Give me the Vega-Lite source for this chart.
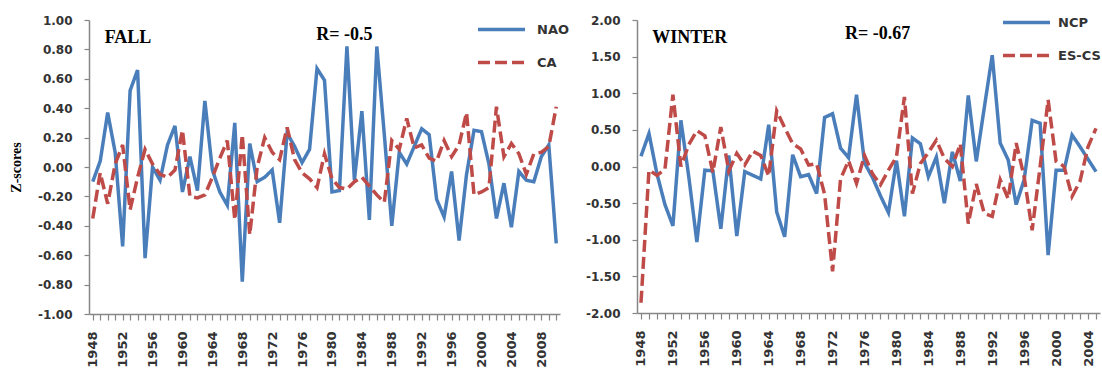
{
  "$schema": "https://vega.github.io/schema/vega-lite/v6.json",
  "padding": {"left": 9, "top": -3, "right": 0, "bottom": 0},
  "spacing": 77,
  "bounds": "flush",
  "background": "white",
  "resolve": {"scale": {"color": "independent", "strokeDash": "independent"}, "legend": {"color": "independent", "strokeDash": "independent"}},
  "config": {
    "view": {"stroke": null},
    "font": "DejaVu Sans",
    "axis": {"grid": false, "domainColor": "#868686", "tickColor": "#868686", "domainWidth": 1.5, "tickWidth": 1.2, "labelFont": "DejaVu Sans", "labelFontWeight": "bold", "labelColor": "#333333", "labelOverlap": false, "labelSeparation": -40}
  },
  "datasets": {
    "fall": [
      {"year":1948,"series":"NAO","value":-0.10},{"year":1949,"series":"NAO","value":0.04},{"year":1950,"series":"NAO","value":0.37},{"year":1951,"series":"NAO","value":0.10},{"year":1952,"series":"NAO","value":-0.54},{"year":1953,"series":"NAO","value":0.52},{"year":1954,"series":"NAO","value":0.66},{"year":1955,"series":"NAO","value":-0.62},{"year":1956,"series":"NAO","value":0.00},{"year":1957,"series":"NAO","value":-0.09},
      {"year":1958,"series":"NAO","value":0.15},{"year":1959,"series":"NAO","value":0.28},{"year":1960,"series":"NAO","value":-0.17},{"year":1961,"series":"NAO","value":0.07},{"year":1962,"series":"NAO","value":-0.16},{"year":1963,"series":"NAO","value":0.45},{"year":1964,"series":"NAO","value":-0.02},{"year":1965,"series":"NAO","value":-0.17},{"year":1966,"series":"NAO","value":-0.26},{"year":1967,"series":"NAO","value":0.30},
      {"year":1968,"series":"NAO","value":-0.78},{"year":1969,"series":"NAO","value":0.16},{"year":1970,"series":"NAO","value":-0.10},{"year":1971,"series":"NAO","value":-0.07},{"year":1972,"series":"NAO","value":-0.02},{"year":1973,"series":"NAO","value":-0.38},{"year":1974,"series":"NAO","value":0.23},{"year":1975,"series":"NAO","value":0.14},{"year":1976,"series":"NAO","value":0.03},{"year":1977,"series":"NAO","value":0.12},
      {"year":1978,"series":"NAO","value":0.67},{"year":1979,"series":"NAO","value":0.59},{"year":1980,"series":"NAO","value":-0.17},{"year":1981,"series":"NAO","value":-0.16},{"year":1982,"series":"NAO","value":0.82},{"year":1983,"series":"NAO","value":-0.09},{"year":1984,"series":"NAO","value":0.38},{"year":1985,"series":"NAO","value":-0.36},{"year":1986,"series":"NAO","value":0.82},{"year":1987,"series":"NAO","value":0.22},
      {"year":1988,"series":"NAO","value":-0.40},{"year":1989,"series":"NAO","value":0.10},{"year":1990,"series":"NAO","value":0.02},{"year":1991,"series":"NAO","value":0.14},{"year":1992,"series":"NAO","value":0.26},{"year":1993,"series":"NAO","value":0.22},{"year":1994,"series":"NAO","value":-0.22},{"year":1995,"series":"NAO","value":-0.34},{"year":1996,"series":"NAO","value":-0.03},{"year":1997,"series":"NAO","value":-0.50},
      {"year":1998,"series":"NAO","value":-0.05},{"year":1999,"series":"NAO","value":0.25},{"year":2000,"series":"NAO","value":0.24},{"year":2001,"series":"NAO","value":0.02},{"year":2002,"series":"NAO","value":-0.35},{"year":2003,"series":"NAO","value":-0.11},{"year":2004,"series":"NAO","value":-0.41},{"year":2005,"series":"NAO","value":-0.03},{"year":2006,"series":"NAO","value":-0.09},{"year":2007,"series":"NAO","value":-0.10},
      {"year":2008,"series":"NAO","value":0.07},{"year":2009,"series":"NAO","value":0.15},{"year":2010,"series":"NAO","value":-0.52},
      {"year":1948,"series":"CA","value":-0.35},{"year":1949,"series":"CA","value":-0.04},{"year":1950,"series":"CA","value":-0.25},{"year":1951,"series":"CA","value":0.02},{"year":1952,"series":"CA","value":0.15},{"year":1953,"series":"CA","value":-0.29},{"year":1954,"series":"CA","value":-0.07},{"year":1955,"series":"CA","value":0.12},{"year":1956,"series":"CA","value":0.02},{"year":1957,"series":"CA","value":-0.05},
      {"year":1958,"series":"CA","value":-0.07},{"year":1959,"series":"CA","value":-0.02},{"year":1960,"series":"CA","value":0.25},{"year":1961,"series":"CA","value":-0.20},{"year":1962,"series":"CA","value":-0.21},{"year":1963,"series":"CA","value":-0.19},{"year":1964,"series":"CA","value":-0.07},{"year":1965,"series":"CA","value":0.06},{"year":1966,"series":"CA","value":0.18},{"year":1967,"series":"CA","value":-0.36},
      {"year":1968,"series":"CA","value":0.22},{"year":1969,"series":"CA","value":-0.46},{"year":1970,"series":"CA","value":0.00},{"year":1971,"series":"CA","value":0.20},{"year":1972,"series":"CA","value":0.10},{"year":1973,"series":"CA","value":0.05},{"year":1974,"series":"CA","value":0.27},{"year":1975,"series":"CA","value":0.05},{"year":1976,"series":"CA","value":-0.04},{"year":1977,"series":"CA","value":-0.08},
      {"year":1978,"series":"CA","value":-0.14},{"year":1979,"series":"CA","value":0.09},{"year":1980,"series":"CA","value":-0.08},{"year":1981,"series":"CA","value":-0.14},{"year":1982,"series":"CA","value":-0.15},{"year":1983,"series":"CA","value":-0.10},{"year":1984,"series":"CA","value":-0.07},{"year":1985,"series":"CA","value":-0.13},{"year":1986,"series":"CA","value":-0.19},{"year":1987,"series":"CA","value":-0.24},
      {"year":1988,"series":"CA","value":0.18},{"year":1989,"series":"CA","value":0.12},{"year":1990,"series":"CA","value":0.33},{"year":1991,"series":"CA","value":0.13},{"year":1992,"series":"CA","value":0.15},{"year":1993,"series":"CA","value":0.06},{"year":1994,"series":"CA","value":0.04},{"year":1995,"series":"CA","value":0.18},{"year":1996,"series":"CA","value":0.07},{"year":1997,"series":"CA","value":0.15},
      {"year":1998,"series":"CA","value":0.37},{"year":1999,"series":"CA","value":-0.19},{"year":2000,"series":"CA","value":-0.17},{"year":2001,"series":"CA","value":-0.14},{"year":2002,"series":"CA","value":0.41},{"year":2003,"series":"CA","value":0.07},{"year":2004,"series":"CA","value":0.16},{"year":2005,"series":"CA","value":0.09},{"year":2006,"series":"CA","value":-0.05},{"year":2007,"series":"CA","value":0.09},
      {"year":2008,"series":"CA","value":0.10},{"year":2009,"series":"CA","value":0.14},{"year":2010,"series":"CA","value":0.41}
    ],
    "winter": [
      {"year":1948,"series":"NCP","value":0.14},{"year":1949,"series":"NCP","value":0.45},{"year":1950,"series":"NCP","value":-0.10},{"year":1951,"series":"NCP","value":-0.52},{"year":1952,"series":"NCP","value":-0.81},{"year":1953,"series":"NCP","value":0.63},{"year":1954,"series":"NCP","value":-0.15},{"year":1955,"series":"NCP","value":-1.03},{"year":1956,"series":"NCP","value":-0.05},{"year":1957,"series":"NCP","value":-0.06},
      {"year":1958,"series":"NCP","value":-0.85},{"year":1959,"series":"NCP","value":0.15},{"year":1960,"series":"NCP","value":-0.95},{"year":1961,"series":"NCP","value":-0.07},{"year":1962,"series":"NCP","value":-0.12},{"year":1963,"series":"NCP","value":-0.17},{"year":1964,"series":"NCP","value":0.57},{"year":1965,"series":"NCP","value":-0.62},{"year":1966,"series":"NCP","value":-0.96},{"year":1967,"series":"NCP","value":0.16},
      {"year":1968,"series":"NCP","value":-0.14},{"year":1969,"series":"NCP","value":-0.11},{"year":1970,"series":"NCP","value":-0.37},{"year":1971,"series":"NCP","value":0.67},{"year":1972,"series":"NCP","value":0.72},{"year":1973,"series":"NCP","value":0.25},{"year":1974,"series":"NCP","value":0.12},{"year":1975,"series":"NCP","value":0.98},{"year":1976,"series":"NCP","value":0.05},{"year":1977,"series":"NCP","value":-0.15},
      {"year":1978,"series":"NCP","value":-0.40},{"year":1979,"series":"NCP","value":-0.63},{"year":1980,"series":"NCP","value":0.08},{"year":1981,"series":"NCP","value":-0.68},{"year":1982,"series":"NCP","value":0.39},{"year":1983,"series":"NCP","value":0.31},{"year":1984,"series":"NCP","value":-0.14},{"year":1985,"series":"NCP","value":0.13},{"year":1986,"series":"NCP","value":-0.50},{"year":1987,"series":"NCP","value":0.20},
      {"year":1988,"series":"NCP","value":-0.20},{"year":1989,"series":"NCP","value":0.97},{"year":1990,"series":"NCP","value":0.07},{"year":1991,"series":"NCP","value":0.80},{"year":1992,"series":"NCP","value":1.52},{"year":1993,"series":"NCP","value":0.32},{"year":1994,"series":"NCP","value":0.09},{"year":1995,"series":"NCP","value":-0.52},{"year":1996,"series":"NCP","value":-0.18},{"year":1997,"series":"NCP","value":0.63},
      {"year":1998,"series":"NCP","value":0.59},{"year":1999,"series":"NCP","value":-1.21},{"year":2000,"series":"NCP","value":-0.05},{"year":2001,"series":"NCP","value":-0.05},{"year":2002,"series":"NCP","value":0.43},{"year":2003,"series":"NCP","value":0.27},{"year":2004,"series":"NCP","value":0.10},{"year":2005,"series":"NCP","value":-0.07},
      {"year":1948,"series":"ES-CS","value":-1.86},{"year":1949,"series":"ES-CS","value":-0.05},{"year":1950,"series":"ES-CS","value":-0.12},{"year":1951,"series":"ES-CS","value":-0.04},{"year":1952,"series":"ES-CS","value":0.98},{"year":1953,"series":"ES-CS","value":0.00},{"year":1954,"series":"ES-CS","value":0.30},{"year":1955,"series":"ES-CS","value":0.49},{"year":1956,"series":"ES-CS","value":0.42},{"year":1957,"series":"ES-CS","value":-0.08},
      {"year":1958,"series":"ES-CS","value":0.54},{"year":1959,"series":"ES-CS","value":-0.06},{"year":1960,"series":"ES-CS","value":0.18},{"year":1961,"series":"ES-CS","value":0.02},{"year":1962,"series":"ES-CS","value":0.21},{"year":1963,"series":"ES-CS","value":0.15},{"year":1964,"series":"ES-CS","value":-0.13},{"year":1965,"series":"ES-CS","value":0.76},{"year":1966,"series":"ES-CS","value":0.53},{"year":1967,"series":"ES-CS","value":0.31},
      {"year":1968,"series":"ES-CS","value":0.24},{"year":1969,"series":"ES-CS","value":0.02},{"year":1970,"series":"ES-CS","value":0.04},{"year":1971,"series":"ES-CS","value":-0.38},{"year":1972,"series":"ES-CS","value":-1.43},{"year":1973,"series":"ES-CS","value":-0.17},{"year":1974,"series":"ES-CS","value":0.08},{"year":1975,"series":"ES-CS","value":-0.23},{"year":1976,"series":"ES-CS","value":0.15},{"year":1977,"series":"ES-CS","value":-0.10},
      {"year":1978,"series":"ES-CS","value":-0.25},{"year":1979,"series":"ES-CS","value":-0.05},{"year":1980,"series":"ES-CS","value":0.13},{"year":1981,"series":"ES-CS","value":0.95},{"year":1982,"series":"ES-CS","value":-0.37},{"year":1983,"series":"ES-CS","value":0.04},{"year":1984,"series":"ES-CS","value":0.19},{"year":1985,"series":"ES-CS","value":0.36},{"year":1986,"series":"ES-CS","value":0.11},{"year":1987,"series":"ES-CS","value":0.00},
      {"year":1988,"series":"ES-CS","value":0.31},{"year":1989,"series":"ES-CS","value":-0.78},{"year":1990,"series":"ES-CS","value":-0.24},{"year":1991,"series":"ES-CS","value":-0.64},{"year":1992,"series":"ES-CS","value":-0.68},{"year":1993,"series":"ES-CS","value":-0.18},{"year":1994,"series":"ES-CS","value":-0.44},{"year":1995,"series":"ES-CS","value":0.32},{"year":1996,"series":"ES-CS","value":-0.14},{"year":1997,"series":"ES-CS","value":-0.87},
      {"year":1998,"series":"ES-CS","value":0.00},{"year":1999,"series":"ES-CS","value":0.91},{"year":2000,"series":"ES-CS","value":0.07},{"year":2001,"series":"ES-CS","value":0.00},{"year":2002,"series":"ES-CS","value":-0.41},{"year":2003,"series":"ES-CS","value":-0.20},{"year":2004,"series":"ES-CS","value":0.27},{"year":2005,"series":"ES-CS","value":0.52}
    ]
  },
  "hconcat": [
    {
      "width": 471,
      "height": 294,
      "encoding": {
        "x": {"type": "quantitative", "scale": {"domain": [1947.5, 2010.5], "nice": false, "zero": false},
              "axis": {"title": null, "values": [1948,1949,1950,1951,1952,1953,1954,1955,1956,1957,1958,1959,1960,1961,1962,1963,1964,1965,1966,1967,1968,1969,1970,1971,1972,1973,1974,1975,1976,1977,1978,1979,1980,1981,1982,1983,1984,1985,1986,1987,1988,1989,1990,1991,1992,1993,1994,1995,1996,1997,1998,1999,2000,2001,2002,2003,2004,2005,2006,2007,2008,2009,2010],
                       "labelExpr": "(datum.value - 1948) % 4 == 0 ? '' + datum.value : ''", "labelAngle": -90, "labelFontSize": 13, "tickSize": 6, "labelPadding": 11, "labelOverlap": false, "labelSeparation": -40, "labelBound": false, "labelFlush": false}},
        "y": {"type": "quantitative", "scale": {"domain": [-1, 1], "nice": false, "zero": false},
              "axis": {"title": "Z-scores", "titleFont": "Liberation Serif", "titleFontWeight": "bold", "titleFontSize": 14, "titleColor": "#000000", "titlePadding": 14,
                       "values": [-1, -0.8, -0.6, -0.4, -0.2, 0, 0.2, 0.4, 0.6, 0.8, 1], "labelOverlap": false, "labelSeparation": -40,
                       "labelExpr": "replace(format(datum.value, '.2f'), '\u2212', '-')", "labelFontSize": 12, "tickSize": 5, "labelPadding": 12}}
      },
      "layer": [
        {
          "data": {"name": "fall"},
          "mark": {"type": "line", "strokeWidth": 3.5, "strokeCap": "butt", "strokeJoin": "miter"},
          "encoding": {
            "x": {"field": "year"},
            "y": {"field": "value"},
            "color": {"field": "series", "type": "nominal", "scale": {"domain": ["NAO", "CA"], "range": ["#4A7EBB", "#BE4B48"]},
                      "legend": {"title": null, "orient": "none", "legendX": 387, "legendY": -16, "symbolType": "stroke", "symbolSize": 2209, "symbolStrokeWidth": 3.5, "labelFont": "DejaVu Sans", "labelFontSize": 13, "labelFontWeight": "bold", "labelColor": "#333333", "rowPadding": -13, "labelOffset": 10, "padding": 0}},
            "strokeDash": {"field": "series", "type": "nominal", "scale": {"domain": ["NAO", "CA"], "range": [[1, 0], [12, 5]]},
                      "legend": {"title": null, "orient": "none", "legendX": 387, "legendY": -16, "symbolType": "stroke", "symbolSize": 2209, "symbolStrokeWidth": 3.5, "labelFont": "DejaVu Sans", "labelFontSize": 13, "labelFontWeight": "bold", "labelColor": "#333333", "rowPadding": -13, "labelOffset": 10, "padding": 0}}
          }
        },
        {
          "data": {"values": [{"label": "FALL"}]},
          "mark": {"type": "text", "font": "Liberation Serif", "fontWeight": "bold", "fontSize": 18, "align": "left", "baseline": "alphabetic", "color": "#000000"},
          "encoding": {"x": {"datum": 1949.6}, "y": {"datum": 0.844}, "text": {"field": "label"}}
        },
        {
          "data": {"values": [{"label": "R= -0.5"}]},
          "mark": {"type": "text", "font": "Liberation Serif", "fontWeight": "bold", "fontSize": 18, "align": "left", "baseline": "alphabetic", "color": "#000000"},
          "encoding": {"x": {"datum": 1977.9}, "y": {"datum": 0.864}, "text": {"field": "label"}}
        }
      ]
    },
    {
      "width": 463,
      "height": 293,
      "encoding": {
        "x": {"type": "quantitative", "scale": {"domain": [1947.5, 2005.5], "nice": false, "zero": false},
              "axis": {"title": null, "values": [1948,1949,1950,1951,1952,1953,1954,1955,1956,1957,1958,1959,1960,1961,1962,1963,1964,1965,1966,1967,1968,1969,1970,1971,1972,1973,1974,1975,1976,1977,1978,1979,1980,1981,1982,1983,1984,1985,1986,1987,1988,1989,1990,1991,1992,1993,1994,1995,1996,1997,1998,1999,2000,2001,2002,2003,2004,2005],
                       "labelExpr": "(datum.value - 1948) % 4 == 0 ? '' + datum.value : ''", "labelAngle": -90, "labelFontSize": 13, "tickSize": 6, "labelPadding": 11, "labelOverlap": false, "labelSeparation": -40, "labelBound": false, "labelFlush": false}},
        "y": {"type": "quantitative", "scale": {"domain": [-2, 2], "nice": false, "zero": false},
              "axis": {"title": null, "values": [-2, -1.5, -1, -0.5, 0, 0.5, 1, 1.5, 2], "labelOverlap": false, "labelSeparation": -40,
                       "labelExpr": "replace(format(datum.value, '.2f'), '\u2212', '-')", "labelFontSize": 12, "tickSize": 5, "labelPadding": 12}}
      },
      "layer": [
        {
          "data": {"name": "winter"},
          "mark": {"type": "line", "strokeWidth": 3.5, "strokeCap": "butt", "strokeJoin": "miter"},
          "encoding": {
            "x": {"field": "year"},
            "y": {"field": "value"},
            "color": {"field": "series", "type": "nominal", "scale": {"domain": ["NCP", "ES-CS"], "range": ["#4A7EBB", "#BE4B48"]},
                      "legend": {"title": null, "orient": "none", "legendX": 364, "legendY": -23, "symbolType": "stroke", "symbolSize": 2209, "symbolStrokeWidth": 3.5, "labelFont": "DejaVu Sans", "labelFontSize": 13, "labelFontWeight": "bold", "labelColor": "#333333", "rowPadding": -17, "labelOffset": 6, "padding": 0}},
            "strokeDash": {"field": "series", "type": "nominal", "scale": {"domain": ["NCP", "ES-CS"], "range": [[1, 0], [12, 5]]},
                      "legend": {"title": null, "orient": "none", "legendX": 364, "legendY": -23, "symbolType": "stroke", "symbolSize": 2209, "symbolStrokeWidth": 3.5, "labelFont": "DejaVu Sans", "labelFontSize": 13, "labelFontWeight": "bold", "labelColor": "#333333", "rowPadding": -17, "labelOffset": 6, "padding": 0}}
          }
        },
        {
          "data": {"values": [{"label": "WINTER"}]},
          "mark": {"type": "text", "font": "Liberation Serif", "fontWeight": "bold", "fontSize": 18, "align": "left", "baseline": "alphabetic", "color": "#000000"},
          "encoding": {"x": {"datum": 1949.4}, "y": {"datum": 1.686}, "text": {"field": "label"}}
        },
        {
          "data": {"values": [{"label": "R= -0.67"}]},
          "mark": {"type": "text", "font": "Liberation Serif", "fontWeight": "bold", "fontSize": 18, "align": "left", "baseline": "alphabetic", "color": "#000000"},
          "encoding": {"x": {"datum": 1973.55}, "y": {"datum": 1.741}, "text": {"field": "label"}}
        }
      ]
    }
  ]
}
